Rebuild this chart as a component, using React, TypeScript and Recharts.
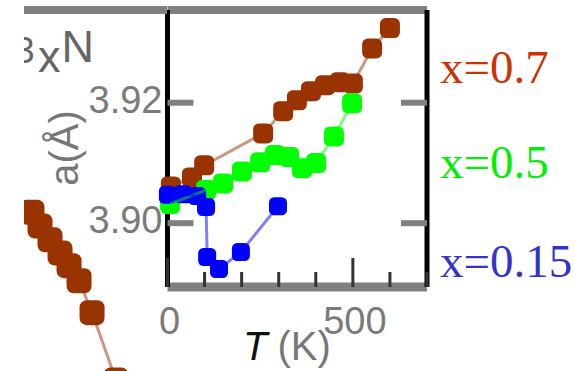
import React from "react";
import { ComposedChart, LineChart, Line, XAxis, YAxis, Legend } from "recharts";

// temperature (K) and lattice parameter a (Å), per composition
const T_X07 = [9, 66, 99, 258, 312, 349, 387, 425, 465, 500, 552, 600];
const A_X07 = [3.9061, 3.9076, 3.9096, 3.9149, 3.9186, 3.9204, 3.9219, 3.9229, 3.9234, 3.9232, 3.929, 3.9324];

const T_X05 = [7, 104, 150, 201, 250, 290, 328, 363, 401, 449, 498];
const A_X05 = [3.9032, 3.9055, 3.9066, 3.9086, 3.9101, 3.9113, 3.911, 3.9091, 3.91, 3.9144, 3.9199];

const T_X015 = [1, 42, 80, 104, 107, 139, 198, 298];
const A_X015 = [3.9047, 3.9048, 3.9045, 3.9027, 3.8944, 3.8924, 3.8952, 3.9028];

// neighbouring panel (composition axis), only partly visible
const C_LEFT = [0.056, 0.112, 0.182, 0.252, 0.315, 0.385, 0.476, 0.643];
const A_LEFT = [3.9018, 3.8995, 3.8972, 3.895, 3.8929, 3.8904, 3.8851, 3.8739];

const SERIES_NAMES = ["x=0.7", "x=0.5", "x=0.15"];
const MARKER_COLORS = ["#993300", "#00ff00", "#0000ff"];
const LEGEND_COLORS = ["#cc3300", "#00ee00", "#3333cc"];

const X_TICKS = [0, 100, 200, 300, 400, 500, 600, 700];
const X_LABELED = [0, 500];
const Y_TICKS = [3.9, 3.92];

const Y_MAX = 3.9354;
const Y_MIN = 3.8894;
const LEFT_Y_MIN = 3.8754;

const zip = (t: number[], a: number[]) => t.map((T, i) => ({ T, a: a[i] }));
const SERIES = [zip(T_X07, A_X07), zip(T_X05, A_X05), zip(T_X015, A_X015)];
const LEFT_ROWS = C_LEFT.map((c, i) => ({ c, a: A_LEFT[i] }));

const SANS = "'Liberation Sans', Arial, sans-serif";
const SERIF = "'Liberation Serif', 'Times New Roman', serif";
const GRAY = "#808080";

// blocky markers, like the pixelated originals
const squareDot = (size: number, fill: string) => (props: any) => {
  const { cx, cy, index } = props;
  if (cx == null || cy == null) return <g key={`d-${index}`} />;
  return (
    <rect
      key={`d-${index}`}
      x={cx - size / 2}
      y={cy - size / 2}
      width={size}
      height={size}
      rx={size / 3.5}
      fill={fill}
    />
  );
};

function BottomTick({ x, y, payload }: any) {
  const v = payload.value;
  const len = X_LABELED.includes(v) ? 29 : 15;
  return (
    <g>
      <line x1={x} x2={x} y1={y} y2={y - len} stroke="#333" strokeWidth={3} />
      {X_LABELED.includes(v) && (
        <text x={x + 2} y={y + 47} textAnchor="middle" fontFamily={SANS} fontSize={38} fill="#7a7a7a">
          {v}
        </text>
      )}
    </g>
  );
}

function TopTick({ x, y, payload }: any) {
  const len = X_LABELED.includes(payload.value) ? 28 : 17;
  return <line x1={x} x2={x} y1={y} y2={y + len} stroke="#333" strokeWidth={3} />;
}

function LeftTick({ x, y, payload }: any) {
  return (
    <g>
      <line x1={x} x2={x + 26} y1={y} y2={y} stroke={GRAY} strokeWidth={6} />
      <text x={x - 5} y={y + 10} textAnchor="end" fontFamily={SANS} fontSize={38} fill="#7a7a7a">
        {payload.value.toFixed(2)}
      </text>
    </g>
  );
}

function RightTick({ x, y }: any) {
  return <line x1={x} x2={x - 26} y1={y} y2={y} stroke={GRAY} strokeWidth={6} />;
}

const TLabel = () => (
  <text x={243} y={360} fontFamily={SANS} fontSize={40}>
    <tspan fill="#111" fontStyle="italic">T</tspan>
    <tspan fill="#777" dx={10}>(K)</tspan>
  </text>
);

const ALabel = () => (
  <text
    transform="translate(78,148) rotate(-90)"
    textAnchor="middle"
    fontFamily={SANS}
    fontSize={40}
    fill="#777"
  >
    a(Å)
  </text>
);

// cut-off formula of the neighbouring panel (local coords, panel starts at x=24)
const FormulaLabel = () => (
  <text fontFamily={SANS} fill="#666">
    <tspan x={-9.5} y={63} fontSize={36}>3</tspan>
    <tspan x={14} y={72} fontSize={45}>x</tspan>
    <tspan x={37.5} y={62} fontSize={45}>N</tspan>
  </text>
);

function LegendBox() {
  const baselines = [83, 178, 277];
  return (
    <svg width={139} height={300} style={{ display: "block" }}>
      {SERIES_NAMES.map((name, i) => (
        <text key={name} x={0} y={baselines[i]} fill={LEGEND_COLORS[i]} fontFamily={SERIF} fontSize={47}>
          {name}
        </text>
      ))}
    </svg>
  );
}

export default function App() {
  return (
    <div
      style={{
        position: "fixed",
        left: 0,
        top: 0,
        width: 579,
        height: 371,
        background: "#fff",
        overflow: "hidden",
      }}
    >
      <div style={{ position: "absolute", left: 0, top: 0 }}>
        <ComposedChart width={579} height={371} margin={{ top: 0, right: 0, bottom: 0, left: 0 }}>
          <XAxis
            xAxisId="b"
            type="number"
            dataKey="T"
            domain={[0, 700]}
            ticks={X_TICKS}
            interval={0}
            height={84}
            axisLine={{ stroke: GRAY, strokeWidth: 9 }}
            tickLine={false}
            tickSize={0}
            tickMargin={0}
            tick={BottomTick}
            label={{ content: TLabel }}
          />
          <XAxis
            xAxisId="t"
            type="number"
            orientation="top"
            domain={[0, 700]}
            allowDataOverflow
            ticks={X_TICKS}
            interval={0}
            height={10}
            axisLine={{ stroke: GRAY, strokeWidth: 8 }}
            tickLine={false}
            tickSize={0}
            tickMargin={0}
            tick={TopTick}
          />
          <YAxis
            yAxisId="l"
            type="number"
            domain={[Y_MIN, Y_MAX]}
            ticks={Y_TICKS}
            interval={0}
            width={167.5}
            axisLine={{ stroke: "#000", strokeWidth: 5 }}
            tickLine={false}
            tickSize={0}
            tickMargin={0}
            tick={LeftTick}
            label={{ content: ALabel }}
          />
          <YAxis
            yAxisId="r"
            type="number"
            orientation="right"
            domain={[Y_MIN, Y_MAX]}
            allowDataOverflow
            ticks={Y_TICKS}
            interval={0}
            width={152}
            axisLine={{ stroke: "#000", strokeWidth: 5 }}
            tickLine={false}
            tickSize={0}
            tickMargin={0}
            tick={RightTick}
          />
          {SERIES.map((rows, i) => (
            <Line
              key={SERIES_NAMES[i]}
              name={SERIES_NAMES[i]}
              xAxisId="b"
              yAxisId="l"
              data={rows}
              dataKey="a"
              type="linear"
              stroke={MARKER_COLORS[i]}
              strokeOpacity={0.5}
              strokeWidth={3}
              dot={squareDot(i === 2 ? 18 : 20, MARKER_COLORS[i])}
              activeDot={false}
              isAnimationActive={false}
              zIndex={700}
            />
          ))}
          <Legend
            layout="vertical"
            align="center"
            verticalAlign="middle"
            wrapperStyle={{ left: 440, top: 0, width: 139, height: 300 }}
            content={LegendBox}
          />
        </ComposedChart>
      </div>

      <div style={{ position: "absolute", left: 24, top: 0, width: 143, height: 371, overflow: "hidden" }}>
        <LineChart width={143} height={371} margin={{ top: 0, right: 0, bottom: 0, left: 0 }} data={LEFT_ROWS}>
          <XAxis
            type="number"
            dataKey="c"
            orientation="top"
            domain={[0, 1]}
            height={10}
            axisLine={{ stroke: GRAY, strokeWidth: 8 }}
            tick={false}
            tickLine={false}
            label={{ content: FormulaLabel }}
          />
          <YAxis type="number" domain={[LEFT_Y_MIN, Y_MAX]} allowDataOverflow hide />
          <Line
            dataKey="a"
            type="linear"
            stroke="#993300"
            strokeOpacity={0.5}
            strokeWidth={3}
            dot={squareDot(25, "#993300")}
            activeDot={false}
            isAnimationActive={false}
          />
        </LineChart>
      </div>
    </div>
  );
}
